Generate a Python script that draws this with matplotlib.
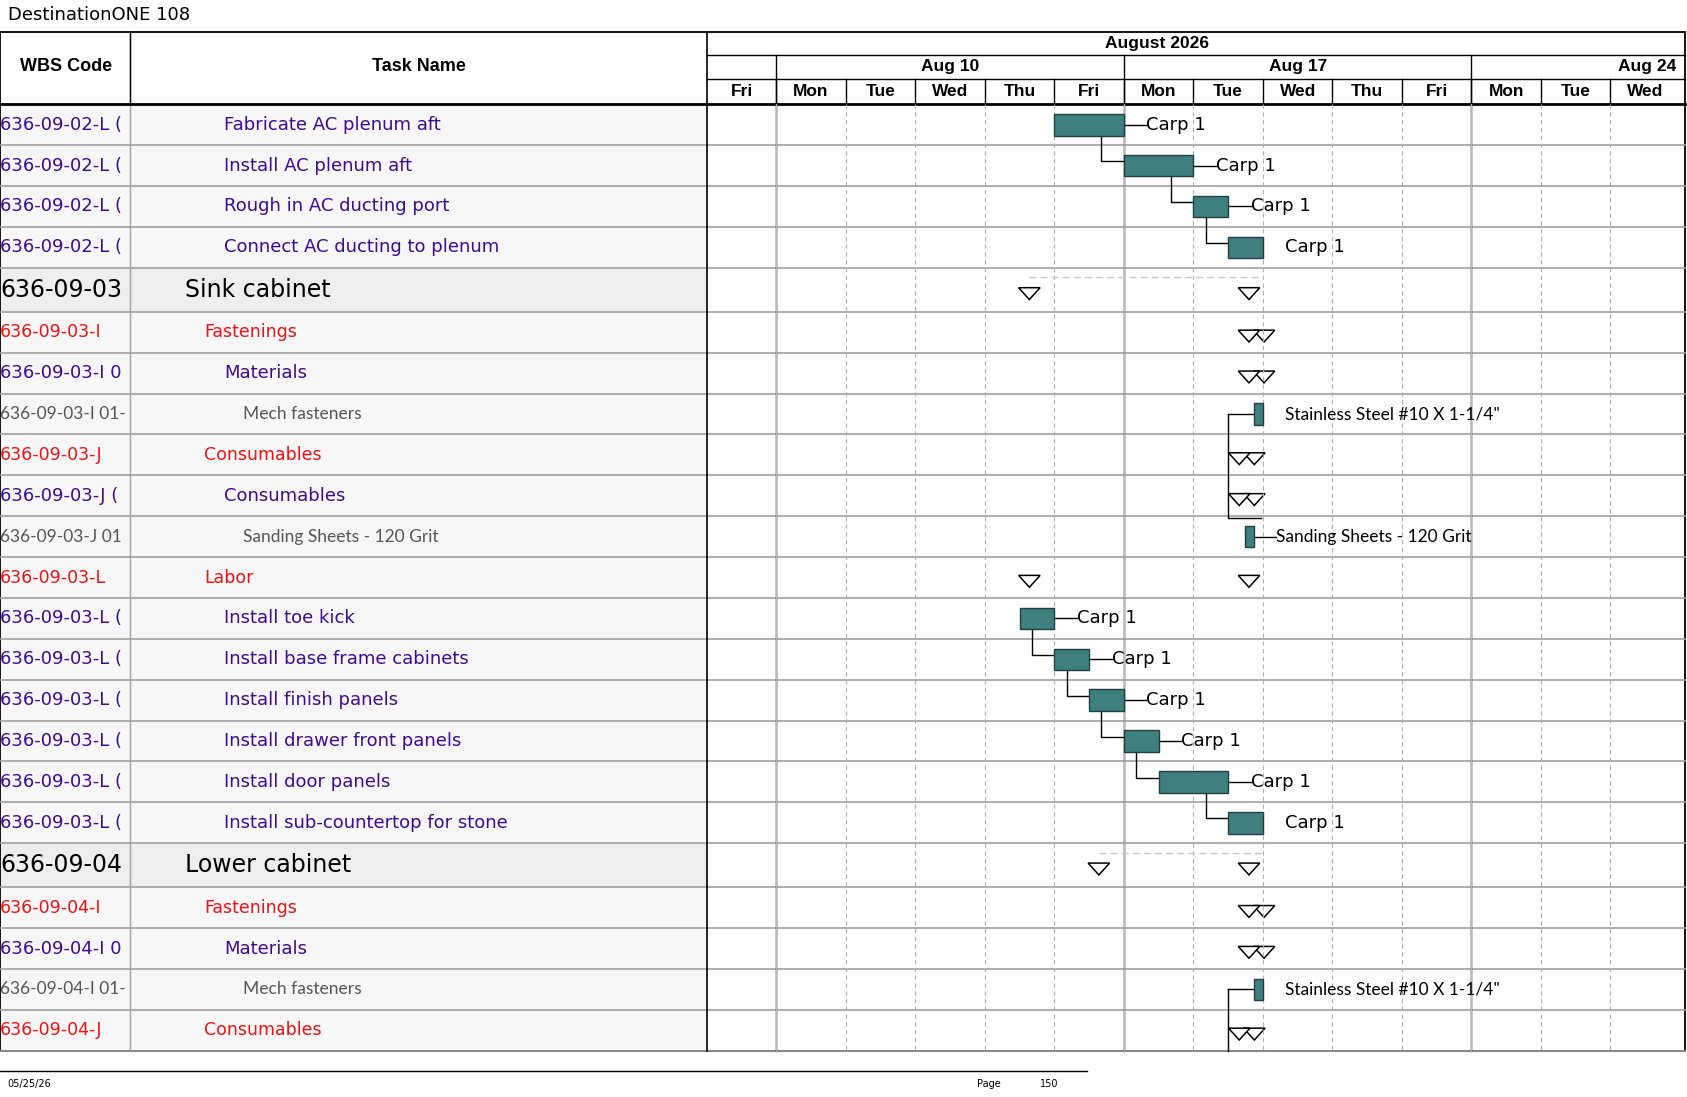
import matplotlib.pyplot as plt
from matplotlib.patches import Rectangle, Polygon

# table rows
wbs = ['636-09-02-L (', '636-09-02-L (', '636-09-02-L (', '636-09-02-L (',
       '636-09-03', '636-09-03-I', '636-09-03-I 0', '636-09-03-I 01-',
       '636-09-03-J', '636-09-03-J (', '636-09-03-J 01', '636-09-03-L',
       '636-09-03-L (', '636-09-03-L (', '636-09-03-L (', '636-09-03-L (',
       '636-09-03-L (', '636-09-03-L (',
       '636-09-04', '636-09-04-I', '636-09-04-I 0', '636-09-04-I 01-', '636-09-04-J']
tasks = ['Fabricate AC plenum aft', 'Install AC plenum aft', 'Rough in AC ducting port',
         'Connect AC ducting to plenum', 'Sink cabinet', 'Fastenings', 'Materials',
         'Mech fasteners', 'Consumables', 'Consumables', 'Sanding Sheets - 120 Grit', 'Labor',
         'Install toe kick', 'Install base frame cabinets', 'Install finish panels',
         'Install drawer front panels', 'Install door panels', 'Install sub-countertop for stone',
         'Lower cabinet', 'Fastenings', 'Materials', 'Mech fasteners', 'Consumables']
levels = ['task', 'task', 'task', 'task', 'sum', 'grp', 'task', 'res', 'grp', 'task', 'res', 'grp',
          'task', 'task', 'task', 'task', 'task', 'task', 'sum', 'grp', 'task', 'res', 'grp']

# timeline: day index 0 = Fri Aug 7 (work days only)
days = ['Fri', 'Mon', 'Tue', 'Wed', 'Thu', 'Fri', 'Mon', 'Tue', 'Wed', 'Thu', 'Fri', 'Mon', 'Tue', 'Wed']
weeks = ['Aug 10', 'Aug 17', 'Aug 24']

# bars: row, start day, duration (days), label
bar_rows = [0, 1, 2, 3, 7, 10, 12, 13, 14, 15, 16, 17, 21]
bar_start = [5, 6, 7, 7.5, 7.87, 7.74, 4.5, 5, 5.5, 6, 6.5, 7.5, 7.87]
bar_dur = [1, 1, 0.5, 0.5, 0.13, 0.13, 0.5, 0.5, 0.5, 0.5, 1, 0.5, 0.13]
bar_lbl = ['Carp 1', 'Carp 1', 'Carp 1', 'Carp 1', 'Stainless Steel #10 X 1-1/4"',
           'Sanding Sheets - 120 Grit', 'Carp 1', 'Carp 1', 'Carp 1', 'Carp 1', 'Carp 1', 'Carp 1',
           'Stainless Steel #10 X 1-1/4"']
# milestones (single / double triangles)
ms_rows = [4, 4, 11, 11, 18, 18]
ms_pos = [4.64, 7.80, 4.64, 7.80, 5.64, 7.80]
dbl_rows = [5, 6, 8, 9, 19, 20, 22]
dbl_pos = [7.80, 7.80, 7.66, 7.66, 7.80, 7.80, 7.66]

fig = plt.figure(figsize=(16.87, 10.97), dpi=100)
ax = fig.add_axes([0, 0, 1, 1])
ax.set_xlim(0, 1568)
ax.set_ylim(1020, 0)
ax.axis('off')

X0, DW = 657, 64.6
def xd(d):
    return X0 + d * DW

heights = [41 if l == 'sum' else 38 for l in levels]
tops = [97]
for h in heights:
    tops.append(tops[-1] + h)
yb = tops[-1]

ax.text(7, 14, 'DestinationONE 108', fontsize=13, va='center', family='Liberation Sans Narrow')

# row backgrounds and lines
for i, lvl in enumerate(levels):
    fc = '#eeeeee' if lvl == 'sum' else '#f7f7f7'
    ax.add_patch(Rectangle((0, tops[i]), 657, heights[i], fc=fc, ec='none'))
    ax.plot([0, 1566], [tops[i + 1]] * 2, color='#a0a0a0', lw=1.2)
ax.add_patch(Rectangle((0, 30), 1566, yb - 30, fill=False, ec='black', lw=1.3))
ax.plot([121, 121], [30, yb], color='#a0a0a0', lw=1)
ax.plot([121, 121], [30, 97], color='black', lw=1)
ax.plot([657, 657], [30, yb], color='black', lw=1.2)
ax.plot([0, 1566], [97, 97], color='black', lw=2)

# header
ax.text(61, 62, 'WBS Code', fontsize=13, fontweight='bold', ha='center', va='center', family='Liberation Sans')
ax.text(389, 62, 'Task Name', fontsize=13, fontweight='bold', ha='center', va='center', family='Liberation Sans')
ax.plot([657, 1566], [51, 51], color='black', lw=1)
ax.plot([657, 1566], [73, 73], color='black', lw=1)
ax.text(1075, 40, 'August 2026', fontsize=12.5, fontweight='bold', ha='center', va='center', family='Liberation Sans')
for k, w in enumerate(weeks):
    x1 = xd(1 + 5 * k)
    x2 = min(xd(6 + 5 * k), 1566)
    ax.plot([x1, x1], [51, yb], color='black' if True else None, lw=1)
    ax.text((x1 + x2) / 2 if k < 2 else 1558, 62, w, fontsize=12.5, fontweight='bold',
            ha='center' if k < 2 else 'right', va='center', family='Liberation Sans')
for j, d in enumerate(days):
    x1, x2 = xd(j), min(xd(j + 1), 1566)
    if j > 0:
        ax.plot([x1, x1], [73, 97], color='black', lw=1)
        if j % 5 != 1:
            ax.plot([x1, x1], [97, yb], color='#b0b0b0', lw=0.8, ls=(0, (4, 3)))
    ax.text((x1 + x2) / 2, 85, d, fontsize=12.5, fontweight='bold', ha='center', va='center',
            family='Liberation Sans')
for k in range(3):
    x1 = xd(1 + 5 * k)
    ax.plot([x1, x1], [97, yb], color='#b8b8b8', lw=1)

# task column text
style = {'task': ('#3d0a91', 208, 13, 'Liberation Sans Narrow'),
         'sum': ('black', 172, 17, 'Liberation Sans Narrow'),
         'grp': ('#ee1111', 190, 12.5, 'Liberation Sans Narrow'),
         'res': ('#555555', 226, 12.5, 'Lato')}
for i, (c, t, lvl) in enumerate(zip(wbs, tasks, levels)):
    col, tx, fs, fam = style[lvl]
    yc = (tops[i] + tops[i + 1]) / 2
    ax.text(0, yc, c, color=col, fontsize=fs, va='center', family=fam, clip_on=True)
    ax.text(tx, yc, t, color=col, fontsize=fs, va='center', family=fam)

def yc_of(r):
    return (tops[r] + tops[r + 1]) / 2

# summary dashed lines
for r, a, b in [(4, 4.64, 8), (18, 5.64, 8)]:
    ax.plot([xd(a), xd(b)], [tops[r] + 9] * 2, color='#c8c8c8', lw=1, ls=(0, (5, 3)))

def tri(x, y):
    ax.add_patch(Polygon([[x - 10, y - 5], [x + 10, y - 5], [x, y + 6]], closed=True,
                         fc='white', ec='black', lw=1.1))

for r, p in zip(ms_rows, ms_pos):
    tri(xd(p), yc_of(r) + 3)
for r, p in zip(dbl_rows, dbl_pos):
    tri(xd(p) + 14, yc_of(r) + 3)
    tri(xd(p), yc_of(r) + 3)

# bars
for n, (r, s, d, l) in enumerate(zip(bar_rows, bar_start, bar_dur, bar_lbl)):
    y = yc_of(r)
    hb = 20
    x1, x2 = xd(s), xd(s + d)
    ax.add_patch(Rectangle((x1, y - hb / 2), x2 - x1, hb, fc='#3f7f80', ec='#1f3f40', lw=1, zorder=3))
    last = r in (3, 7, 17, 21)
    fam = 'Lato' if 'Carp' not in l else 'Liberation Sans Narrow'
    fs = 13 if 'Carp' in l else 12.5
    if last:
        ax.text(x2 + 21, y, l, fontsize=fs, va='center', family=fam)
    else:
        ax.plot([x2, x2 + 21], [y, y], color='black', lw=1)
        ax.text(x2 + 21, y, l, fontsize=fs, va='center', family=fam)

# finish-to-start links
for a, b in [(0, 1), (1, 2), (2, 3), (12, 13), (13, 14), (14, 15), (15, 16), (16, 17)]:
    ia, ib = bar_rows.index(a), bar_rows.index(b)
    xe = xd(bar_start[ia] + bar_dur[ia]) - 21
    xs = xd(bar_start[ib])
    ya = yc_of(a) + 10
    yb2 = yc_of(b)
    ax.plot([xe, xe, xs], [ya, yb2 - 4, yb2 - 4], color='black', lw=1)

# resource links
x_l = xd(7.5)
ax.plot([x_l, xd(7.87)], [yc_of(7)] * 2, color='black', lw=1)
ax.plot([x_l, x_l, xd(7.97)], [yc_of(7), tops[10] + 2, tops[10] + 2], color='black', lw=1)
ax.plot([x_l, xd(7.87)], [yc_of(21)] * 2, color='black', lw=1)
ax.plot([x_l, x_l], [yc_of(21), yb], color='black', lw=1)

# footer
ax.plot([0, 1010], [996, 996], color='black', lw=1)
ax.text(7, 1008, '05/25/26', fontsize=7, va='center', family='Liberation Sans Narrow')
ax.text(908, 1008, 'Page', fontsize=7, va='center', family='Liberation Sans Narrow')
ax.text(967, 1008, '150', fontsize=7, va='center', family='Liberation Sans Narrow')

fig.savefig('out.png', dpi=100)
